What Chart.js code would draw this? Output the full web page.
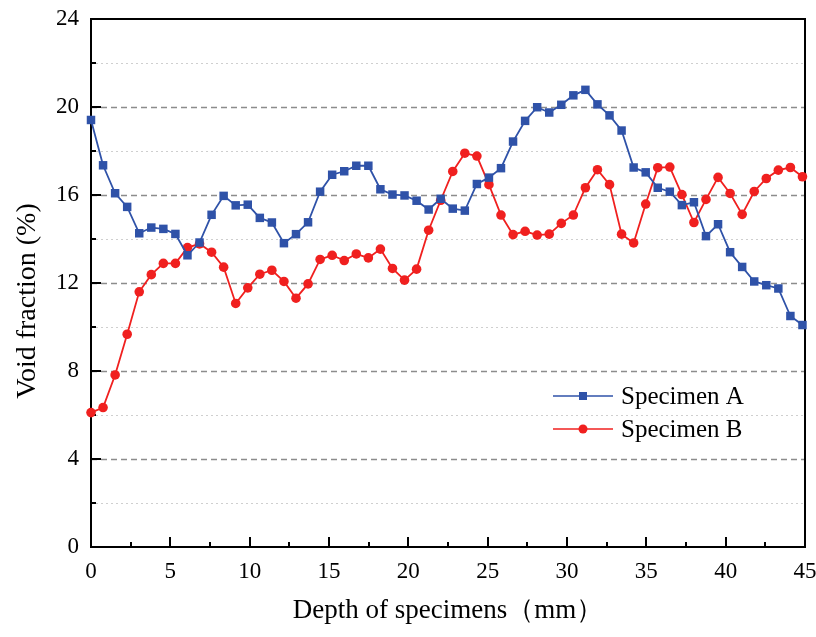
<!DOCTYPE html>
<html>
<head>
<meta charset="utf-8">
<script src="https://cdn.jsdelivr.net/npm/chart.js@4.4.0/dist/chart.umd.min.js"></script>
<style>
  html, body { margin: 0; padding: 0; background: #fff; }
  #wrap { width: 816px; height: 637px; }
</style>
</head>
<body>
<div id="wrap"><canvas id="voidChart" width="816" height="637"></canvas></div>
<script>
// Depth of specimens (mm)
const depth = [0, 0.76, 1.52, 2.28, 3.04, 3.8, 4.56, 5.32, 6.08, 6.84,
  7.6, 8.36, 9.12, 9.88, 10.64, 11.4, 12.16, 12.92, 13.68, 14.44,
  15.2, 15.96, 16.72, 17.48, 18.24, 19, 19.76, 20.52, 21.28, 22.04,
  22.8, 23.56, 24.32, 25.08, 25.84, 26.6, 27.36, 28.12, 28.88, 29.64,
  30.4, 31.16, 31.92, 32.68, 33.44, 34.2, 34.96, 35.72, 36.48, 37.24,
  38, 38.76, 39.52, 40.28, 41.04, 41.8, 42.56, 43.32, 44.08, 44.84];

// Void fraction (%)
const specimenA = [19.41, 17.35, 16.08, 15.46, 14.26, 14.52, 14.46, 14.23, 13.26, 13.84,
  15.10, 15.96, 15.53, 15.56, 14.96, 14.75, 13.81, 14.22, 14.76, 16.15,
  16.92, 17.08, 17.33, 17.33, 16.26, 16.02, 15.98, 15.74, 15.34, 15.83,
  15.38, 15.29, 16.50, 16.79, 17.22, 18.43, 19.37, 19.99, 19.75, 20.10,
  20.53, 20.78, 20.12, 19.62, 18.93, 17.25, 17.03, 16.33, 16.15, 15.54,
  15.67, 14.13, 14.67, 13.40, 12.73, 12.07, 11.90, 11.75, 10.50, 10.09];

const specimenB = [6.11, 6.34, 7.82, 9.67, 11.60, 12.38, 12.89, 12.89, 13.61, 13.78,
  13.40, 12.72, 11.07, 11.78, 12.40, 12.58, 12.07, 11.31, 11.96, 13.07,
  13.26, 13.02, 13.32, 13.14, 13.54, 12.66, 12.13, 12.63, 14.40, 15.76,
  17.07, 17.90, 17.77, 16.47, 15.09, 14.20, 14.35, 14.18, 14.22, 14.71,
  15.09, 16.33, 17.15, 16.47, 14.22, 13.82, 15.59, 17.24, 17.27, 16.02,
  14.75, 15.80, 16.80, 16.07, 15.12, 16.16, 16.75, 17.13, 17.25, 16.83];

const seriesNames = ['Specimen A', 'Specimen B'];
const xTicksMajor = [0, 5, 10, 15, 20, 25, 30, 35, 40, 45];
const yTicksMajor = [0, 4, 8, 12, 16, 20, 24];

const BLUE = '#2f52a8';
const RED = '#f0201f';
const FONT = "'Liberation Serif', 'Times New Roman', serif";

// grid, inward ticks and the closed frame
const framePlugin = {
  id: 'frame',
  beforeDatasetsDraw(chart) {
    const { ctx, chartArea: a, scales: { x, y } } = chart;
    ctx.save();
    y.ticks.forEach(t => {
      if (t.value <= 0 || t.value >= 24) return;
      const py = Math.round(y.getPixelForValue(t.value)) + 0.5;
      const major = yTicksMajor.includes(t.value);
      ctx.beginPath();
      ctx.setLineDash(major ? [6, 4] : [2, 3]);
      ctx.strokeStyle = major ? '#8c8c8c' : '#cfcfcf';
      ctx.lineWidth = major ? 1.3 : 1;
      ctx.moveTo(a.left, py);
      ctx.lineTo(a.right, py);
      ctx.stroke();
    });
    ctx.setLineDash([]);
    ctx.strokeStyle = '#000';
    ctx.lineWidth = 2;
    y.ticks.forEach(t => {
      const py = Math.round(y.getPixelForValue(t.value));
      const len = yTicksMajor.includes(t.value) ? 10 : 5;
      ctx.beginPath();
      ctx.moveTo(a.left, py);
      ctx.lineTo(a.left + len, py);
      ctx.stroke();
    });
    x.ticks.forEach(t => {
      const px = Math.round(x.getPixelForValue(t.value));
      const len = xTicksMajor.includes(t.value) ? 10 : 5;
      ctx.beginPath();
      ctx.moveTo(px, a.bottom);
      ctx.lineTo(px, a.bottom - len);
      ctx.stroke();
    });
    ctx.strokeRect(a.left, a.top, a.right - a.left, a.bottom - a.top);
    ctx.restore();
  },
  afterDraw(chart) {
    const { ctx } = chart;
    ctx.save();
    // y axis title, placed a little below the axis middle as in the original
    ctx.translate(28, 301);
    ctx.rotate(-Math.PI / 2);
    ctx.font = '28px ' + FONT;
    ctx.fillStyle = '#000';
    ctx.textAlign = 'center';
    ctx.textBaseline = 'middle';
    ctx.fillText('Void fraction (%)', 0, 0);
    ctx.restore();

    // legend inside the plot
    ctx.save();
    chart.data.datasets.forEach((ds, i) => {
      const ly = 396 + i * 33;
      ctx.strokeStyle = ds.borderColor;
      ctx.fillStyle = ds.borderColor;
      ctx.lineWidth = 1.6;
      ctx.beginPath();
      ctx.moveTo(553, ly);
      ctx.lineTo(613, ly);
      ctx.stroke();
      ctx.beginPath();
      if (ds.pointStyle === 'rect') ctx.rect(579, ly - 4, 8, 8);
      else ctx.arc(583, ly, 4.5, 0, Math.PI * 2);
      ctx.fill();
      ctx.fillStyle = '#000';
      ctx.font = '25px ' + FONT;
      ctx.textBaseline = 'middle';
      ctx.fillText(ds.label, 621, ly + 1);
    });
    ctx.restore();
  }
};

const ctx = document.getElementById('voidChart').getContext('2d');
new Chart(ctx, {
  type: 'line',
  data: {
    datasets: [{
      label: seriesNames[0],
      data: depth.map((d, i) => ({ x: d, y: specimenA[i] })),
      borderColor: BLUE,
      backgroundColor: BLUE,
      borderWidth: 1.8,
      pointStyle: 'rect',
      pointRadius: 6,
      pointBorderWidth: 0,
      tension: 0,
      clip: false
    }, {
      label: seriesNames[1],
      data: depth.map((d, i) => ({ x: d, y: specimenB[i] })),
      borderColor: RED,
      backgroundColor: RED,
      borderWidth: 1.8,
      pointStyle: 'circle',
      pointRadius: 4.8,
      pointBorderWidth: 0,
      tension: 0,
      clip: false
    }]
  },
  options: {
    responsive: false,
    animation: false,
    layout: { padding: { top: 19, right: 11, left: 0, bottom: 0 } },
    plugins: { legend: { display: false }, tooltip: { enabled: false } },
    scales: {
      x: {
        type: 'linear',
        min: 0, max: 45,
        afterFit: s => { s.height = 90; s.paddingLeft = 0; s.paddingRight = 0; },
        ticks: {
          stepSize: 2.5,
          autoSkip: false,
          maxRotation: 0,
          padding: 11,
          color: '#000',
          font: { family: FONT, size: 23 },
          callback: v => xTicksMajor.includes(v) ? String(v) : ''
        },
        grid: { display: false, drawTicks: false },
        border: { display: false },
        title: {
          display: true,
          text: 'Depth of specimens（mm）',
          color: '#000',
          font: { family: FONT, size: 27 },
          padding: { top: 0, bottom: 10 }
        }
      },
      y: {
        min: 0, max: 24,
        afterFit: s => { s.width = 91; s.paddingTop = 0; s.paddingBottom = 0; },
        ticks: {
          stepSize: 2,
          autoSkip: false,
          padding: 12,
          color: '#000',
          font: { family: FONT, size: 23 },
          callback: v => yTicksMajor.includes(v) ? String(v) : ''
        },
        grid: { display: false, drawTicks: false },
        border: { display: false }
      }
    }
  },
  plugins: [framePlugin]
});
</script>
</body>
</html>
